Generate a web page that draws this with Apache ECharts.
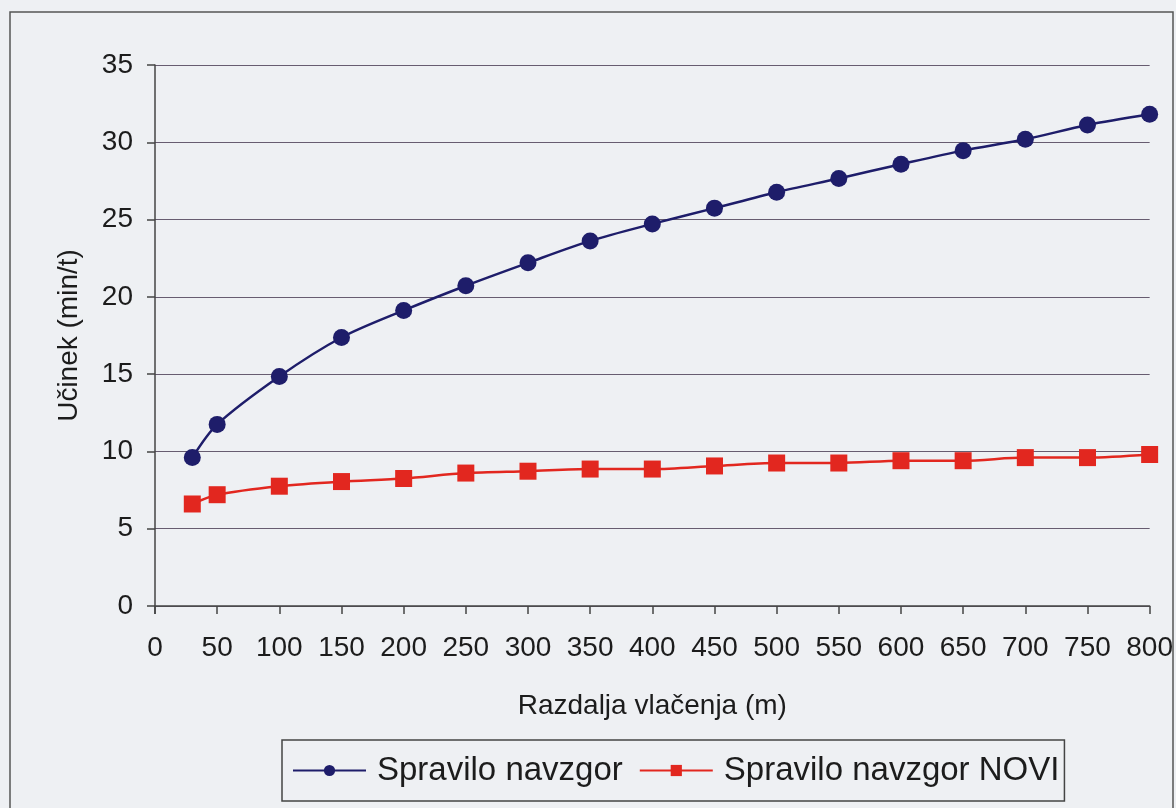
<!DOCTYPE html>
<html>
<head>
<meta charset="utf-8">
<style>
  html, body { margin: 0; padding: 0; background: #eef0f3; }
  #chart { width: 1176px; height: 808px; }
</style>
<script src="https://cdn.jsdelivr.net/npm/echarts@6/dist/echarts.min.js"></script>
</head>
<body>
<div id="chart"></div>
<script>
// Skidding distance (m)
const distances = [30, 50, 100, 150, 200, 250, 300, 350, 400, 450, 500, 550, 600, 650, 700, 750, 800];
// Productivity (min/t), uphill skidding
const spraviloNavzgor = [9.6, 11.75, 14.85, 17.37, 19.12, 20.72, 22.2, 23.62, 24.72, 25.74, 26.77, 27.66, 28.58, 29.46, 30.19, 31.12, 31.81];
// Productivity (min/t), uphill skidding – new method
const spraviloNavzgorNovi = [6.6, 7.2, 7.75, 8.05, 8.25, 8.6, 8.72, 8.86, 8.86, 9.06, 9.25, 9.25, 9.4, 9.4, 9.6, 9.6, 9.8];

const seriesNames = ['Spravilo navzgor', 'Spravilo navzgor NOVI'];
const xAxisTitle = 'Razdalja vlačenja (m)';
const yAxisTitle = 'Učinek (min/t)';

const pairs = (xs, ys) => xs.map((x, i) => [x, ys[i]]);

const FONT = '"Liberation Sans", Arial, sans-serif';
const TEXT = '#1c1c1c';
const AXIS = '#444';

const chart = echarts.init(document.getElementById('chart'), null, { renderer: 'canvas' });

chart.setOption({
  backgroundColor: '#eef0f3',
  animation: false,
  textStyle: { fontFamily: FONT },
  graphic: [
    {
      // outer chart frame
      type: 'rect',
      shape: { x: 10, y: 12, width: 1163, height: 830 },
      style: { fill: 'none', stroke: '#555', lineWidth: 1.5 },
      silent: true
    },
    {
      // short extension of the value axis below the origin
      type: 'line',
      shape: { x1: 155, y1: 606, x2: 155, y2: 614 },
      style: { stroke: AXIS, lineWidth: 1.5 },
      silent: true
    }
  ],
  grid: { left: 155, right: 26, top: 65, bottom: 202, containLabel: false },
  xAxis: {
    type: 'value',
    min: 0, max: 800, interval: 50,
    name: xAxisTitle,
    nameLocation: 'middle',
    nameGap: 86,
    nameTextStyle: { fontSize: 28, color: TEXT, fontFamily: FONT },
    axisLine: { show: true, onZero: false, lineStyle: { color: AXIS, width: 1.5 } },
    axisTick: { show: true, inside: false, length: 8, lineStyle: { color: AXIS, width: 1.5 } },
    axisLabel: { fontSize: 28, color: TEXT, margin: 28, fontFamily: FONT },
    splitLine: { show: false }
  },
  yAxis: {
    type: 'value',
    min: 0, max: 35, interval: 5,
    name: yAxisTitle,
    nameLocation: 'middle',
    nameGap: 72,
    nameRotate: 90,
    nameTextStyle: { fontSize: 28, color: TEXT, fontFamily: FONT },
    axisLine: { show: true, lineStyle: { color: AXIS, width: 1.5 } },
    axisTick: { show: true, inside: false, length: 8, lineStyle: { color: AXIS, width: 1.5 } },
    axisLabel: { fontSize: 28, color: TEXT, margin: 22, fontFamily: FONT },
    splitLine: { show: true, lineStyle: { color: '#675c70', width: 1.2 } }
  },
  legend: {
    left: 282, top: 740,
    orient: 'horizontal',
    data: seriesNames,
    itemWidth: 73, itemHeight: 14, itemGap: 16,
    padding: [14, 5, 14, 10],
    borderColor: '#444', borderWidth: 1.5,
    backgroundColor: 'transparent',
    textStyle: { fontSize: 33, color: TEXT, fontFamily: FONT, padding: [0, 0, 0, 6] }
  },
  series: [
    {
      name: seriesNames[0],
      type: 'line',
      data: pairs(distances, spraviloNavzgor),
      smooth: 0.3,
      symbol: 'circle',
      symbolSize: 17,
      lineStyle: { color: '#1e1d6a', width: 2.5 },
      itemStyle: { color: '#1e1d6a' }
    },
    {
      name: seriesNames[1],
      type: 'line',
      data: pairs(distances, spraviloNavzgorNovi),
      smooth: 0.3,
      symbol: 'rect',
      symbolSize: 17,
      lineStyle: { color: '#e2271f', width: 2.5 },
      itemStyle: { color: '#e2271f' }
    }
  ]
});
</script>
</body>
</html>
